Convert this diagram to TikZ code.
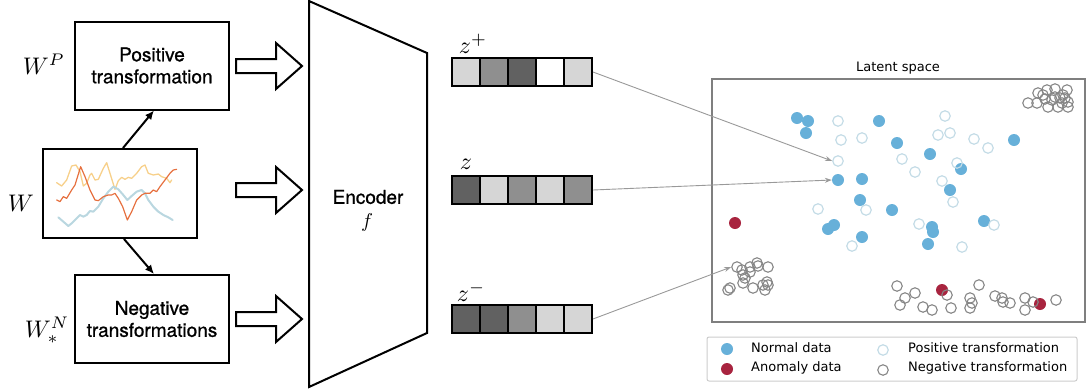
\documentclass[tikz,border=0pt]{standalone}
\usepackage{graphicx}
\usepackage{fontspec}
\newfontfamily\hvfont{TeX Gyre Heros}[FakeBold=0.9]
\newfontfamily\dvfont{DejaVu Sans}
\usetikzlibrary{arrows.meta}

\definecolor{normalc}{HTML}{67B0D9}
\definecolor{anomc}{HTML}{A8243F}
\definecolor{posc}{HTML}{C4DCE6}
\definecolor{negc}{HTML}{858585}
\definecolor{framec}{HTML}{7F7F7F}
\definecolor{cellL}{HTML}{D6D6D6}
\definecolor{cellM}{HTML}{8F8F8F}
\definecolor{cellD}{HTML}{616161}
\definecolor{tsY}{HTML}{F7D08A}
\definecolor{tsO}{HTML}{E6703F}
\definecolor{tsB}{HTML}{BAD7E0}
\definecolor{linkc}{HTML}{999999}

\newcommand\bigmath[1]{\scalebox{2.4}{$#1$}}

\tikzset{
  tbox/.style={draw, line width=2pt, minimum width=154pt, minimum height=88pt,
    inner sep=0pt, align=center, font=\hvfont\fontsize{19}{22}\selectfont},
  mlabel/.style={inner sep=0pt},
  flow/.style={line width=2pt, -{Latex[length=9pt,width=8pt]}},
  hollowarrow/.style={draw, line width=2pt, fill=white, line join=miter},
  cell/.style={draw, line width=2pt, minimum size=28pt, inner sep=0pt},
  ptN/.style={circle, fill=normalc, minimum size=12pt, inner sep=0pt},
  ptA/.style={circle, fill=anomc, minimum size=12pt, inner sep=0pt},
  ptP/.style={circle, draw=posc, line width=1.2pt, minimum size=10.5pt, inner sep=0pt},
  ptG/.style={circle, draw=negc, line width=1.1pt, minimum size=10.5pt, inner sep=0pt},
  link/.style={draw=linkc, line width=0.9pt, -{Stealth[length=7pt,width=5pt]}},
  legtext/.style={anchor=west, inner sep=0pt, font=\dvfont\fontsize{13}{15}\selectfont},
}

\begin{document}
\begin{tikzpicture}[x=1pt,y=-1pt]
\useasboundingbox (0,0) rectangle (1088,389);

% ---- input window and its transformations ----
\node[tbox] (pos) at (152,65.5) {Positive\\transformation};
\node[tbox, minimum height=89pt] (W) at (120,193.5) {};
\node[tbox] (neg) at (152,319) {Negative\\transformations};

\node[mlabel] (lWP) at (44,64) {\bigmath{W^{P}}};
\node[mlabel] (lW) at (21,203) {\bigmath{W}};
\node[mlabel] (lWN) at (47,330) {\bigmath{W^{N}_{*}}};

\draw[flow] ([xshift=3pt]W.north) -- ([xshift=2pt]pos.south);
\draw[flow] ([xshift=4pt]W.south) -- ([xshift=2pt]neg.north);

% time series sketch inside the window
\begin{scope}[shift={(40pt,-140pt)}, x=0.3333pt, y=-0.3333pt, line join=round, line cap=round]
  \draw[tsY, line width=1.3pt] (50,128) -- (65,138) -- (80,120) -- (95,78) -- (108,75) -- (120,95)
    -- (130,138) -- (140,130) -- (150,105) -- (155,100) -- (165,120) -- (175,118) -- (190,85)
    -- (200,68) -- (210,100) -- (225,148) -- (235,122) -- (245,112) -- (255,118) -- (265,112)
    -- (275,115) -- (290,100) -- (305,80) -- (315,75) -- (325,100) -- (340,105) -- (355,102)
    -- (365,110) -- (380,115) -- (390,128) -- (395,120);
  \draw[tsB, line width=2pt] (55,232) -- (70,245) -- (85,258) -- (95,250) -- (110,235) -- (120,225)
    -- (130,230) -- (140,225) -- (150,213) -- (160,215) -- (175,200) -- (190,175) -- (205,155)
    -- (220,140) -- (235,148) -- (250,165) -- (262,180) -- (275,168) -- (290,155) -- (305,150)
    -- (315,160) -- (325,180) -- (340,200) -- (355,215) -- (370,225) -- (385,232) -- (398,240);
  \draw[tsO, line width=1.2pt] (50,180) -- (60,185) -- (70,170) -- (80,175) -- (95,150) -- (105,135)
    -- (122,80) -- (135,110) -- (150,150) -- (165,180) -- (175,182) -- (190,170) -- (205,165)
    -- (215,165) -- (225,160) -- (235,175) -- (248,200) -- (262,240) -- (275,215) -- (290,180)
    -- (305,165) -- (315,160) -- (330,160) -- (340,150) -- (350,155) -- (360,140) -- (375,120)
    -- (390,100) -- (400,90) -- (410,88);
\end{scope}

% ---- hollow arrows into the encoder ----
\foreach \yy in {66,190,319} {
  \draw[hollowarrow] (236,\yy-7) -- (276,\yy-7) -- (276,\yy-23) -- (302,\yy)
    -- (276,\yy+23) -- (276,\yy+7) -- (236,\yy+7) -- cycle;
}

% ---- encoder ----
\draw[line width=2pt, line join=miter] (309,1) -- (427,53) -- (427,333) -- (309,387) -- cycle;
\node[font=\hvfont\fontsize{19}{22}\selectfont, inner sep=0pt] (enc) at (368,197) {Encoder};
\node[inner sep=0pt] (encf) at (367,222) {\scalebox{2}{$f$}};

% ---- embeddings ----
\foreach \c [count=\i] in {cellL,cellM,cellD,white,cellL}
  \node[cell, fill=\c] (zp\i) at (452+28*\i-14,72) {};
\foreach \c [count=\i] in {cellD,cellL,cellM,cellL,cellM}
  \node[cell, fill=\c] (z\i) at (452+28*\i-14,190) {};
\foreach \c [count=\i] in {cellD,cellD,cellM,cellL,cellL}
  \node[cell, fill=\c] (zm\i) at (452+28*\i-14,319) {};

\node[mlabel] (lzp) at (473,44) {\bigmath{z^{+}}};
\node[mlabel] (lz) at (466,164) {\bigmath{z}};
\node[mlabel] (lzm) at (471,292) {\bigmath{z^{-}}};

% ---- latent space ----
\node[draw=framec, line width=1.5pt, minimum width=373pt, minimum height=243pt, inner sep=0pt]
  (latent) at (898.5,200.5) {};
\node[font=\dvfont\fontsize{13}{15}\selectfont, inner sep=0pt] (ltitle) at (898,68) {Latent space};

% normal data
\foreach \px/\py [count=\k] in {797/118,808/121,806/133,879/121,897/143,930/154,961/169,1014/140,
    862/179,950/190,860/200,892/210,834/225,828/229,932/227,933/232,862/237,928/244,984/221}
  \node[ptN] (n\k) at (\px,\py) {};
\node[ptN] (nz) at (838,180) {};

% anomalies
\foreach \px/\py [count=\k] in {735/223,942/290,1040/304}
  \node[ptA] (a\k) at (\px,\py) {};

% positive transformations
\foreach \px/\py [count=\k] in {838/121,841/140,862/138,945/116,938/135,950/133,974/139,988/148,
    902/159,915/172,957/163,942/181,953/202,818/209,866/210,919/224,994/225,852/246,962/247}
  \node[ptP] (p\k) at (\px,\py) {};
\node[ptP] (pz) at (838,161) {};

% negative transformations
\foreach \px/\py [count=\k] in {1028/103,1037/103,1038/93,1043/95,1047/90,1052/100,1055/89,1055/97,
    1060/98,1063/95,1065/98,1067/90,1068/102,1048/107,1058/107,1068/107,1045/99,1062/103,
    743/275,750/267,757/263,768/267,730/288,728/290,743/283,753/288,765/290,767/282,763/285,
    750/272,742/270,758/266,768/285,745/278,
    897/286,905/298,900/305,915/293,923/307,932/310,947/295,951/308,970/298,972/303,970/308,
    979/285,995/296,1002/298,1003/302,1010/303,1025/298,1025/310,1033/302,1056/300}
  \node[ptG] (g\k) at (\px,\py) {};
\node[ptG] (gz) at (737,267) {};

% embeddings mapped into the latent space
\draw[link] (zp5.east) -- (pz.west);
\draw[link] (z5.east) -- (nz.west);
\draw[link] (zm5.east) -- (gz.west);

% ---- legend ----
\node[draw=black!20, line width=1pt, rounded corners=2pt, minimum width=370pt, minimum height=44pt,
  inner sep=0pt] (legend) at (892,359) {};
\node[ptN] (kN) at (727,349) {};
\node[legtext] (tN) at (751,348) {Normal data};
\node[ptA] (kA) at (727,369) {};
\node[legtext] (tA) at (751,368) {Anomaly data};
\node[ptP] (kP) at (883,350) {};
\node[legtext] (tP) at (908,348) {Positive transformation};
\node[ptG] (kG) at (883,370) {};
\node[legtext] (tG) at (908,368) {Negative transformation};
\end{tikzpicture}
\end{document}
